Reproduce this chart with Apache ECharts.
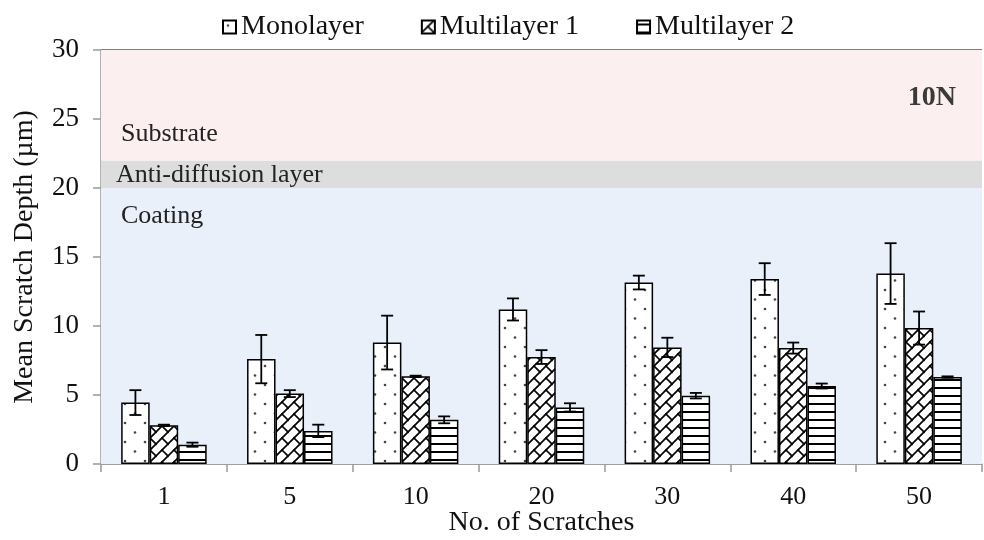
<!DOCTYPE html>
<html>
<head>
<meta charset="utf-8">
<script src="https://cdn.jsdelivr.net/npm/echarts@6/dist/echarts.min.js"></script>
<style>
  html, body { margin: 0; padding: 0; background: #ffffff; }
  #chart { width: 984px; height: 540px; }
</style>
</head>
<body>
<div id="chart"></div>
<script>
// Number of scratches (category axis)
const categories = ['1', '5', '10', '20', '30', '40', '50'];

// Mean scratch depth (µm) and standard deviation for each coating
const monolayer      = [4.45, 7.6, 8.8, 11.2, 13.15, 13.4, 13.8];
const monolayerErr   = [0.9, 1.75, 1.95, 0.8, 0.5, 1.15, 2.2];
const multilayer1    = [2.8, 5.1, 6.35, 7.75, 8.45, 8.4, 9.85];
const multilayer1Err = [0.05, 0.25, 0.05, 0.5, 0.7, 0.4, 1.2];
const multilayer2    = [1.4, 2.4, 3.2, 4.1, 4.95, 5.65, 6.3];
const multilayer2Err = [0.15, 0.45, 0.25, 0.3, 0.2, 0.18, 0.05];

const seriesNames = ['Monolayer', 'Multilayer 1', 'Multilayer 2'];

// Layer zones along the depth axis
const zoneNames  = ['Coating', 'Anti-diffusion layer', 'Substrate'];
const zoneBounds = [[0, 20], [20, 22], [22, 30]];

const yMin = 0, yMax = 30, yStep = 5;
const loadLabel = '10N';

const FONT = "'Liberation Serif', 'Times New Roman', serif";
const BAR_W = 28.5;
const CAP = 6;

// ---- fill patterns ----
function makeCanvas(w, h) {
  const c = document.createElement('canvas');
  c.width = w; c.height = h;
  const ctx = c.getContext('2d');
  ctx.fillStyle = '#ffffff';
  ctx.fillRect(0, 0, w, h);
  return [c, ctx];
}

function dotPattern() {
  const [c, ctx] = makeCanvas(20, 19);
  ctx.fillStyle = '#444';
  [[5, 5], [15, 14.5]].forEach(([x, y]) => {
    ctx.beginPath(); ctx.arc(x, y, 1.3, 0, Math.PI * 2); ctx.fill();
  });
  return c;
}

function brickPattern() {
  const T = 12;
  const [c, ctx] = makeCanvas(T, T);
  ctx.strokeStyle = '#000';
  ctx.lineWidth = 1.7;
  ctx.lineCap = 'square';
  const seg = (x1, y1, x2, y2) => { ctx.beginPath(); ctx.moveTo(x1, y1); ctx.lineTo(x2, y2); ctx.stroke(); };
  // long "/" courses
  [0, T, 2 * T].forEach(k => seg(-T, k + T, k + T, -T));
  // short "\" joints, staggered between courses
  [[0, 0], [-T, -T], [T, T], [-T, 0], [0, -T]].forEach(([dx, dy]) =>
    seg(T / 2 + dx, T / 2 + dy, T + dx, T + dy));
  return c;
}

function stripePattern() {
  const [c, ctx] = makeCanvas(8, 8);
  ctx.fillStyle = '#000';
  ctx.fillRect(0, 3, 8, 2);
  return c;
}

const fills = [dotPattern(), brickPattern(), stripePattern()];
const values = [monolayer, multilayer1, multilayer2];
const errors = [monolayerErr, multilayer1Err, multilayer2Err];

function barSeries(idx) {
  return {
    name: seriesNames[idx],
    type: 'bar',
    barWidth: BAR_W,
    barGap: '0%',
    data: values[idx],
    itemStyle: {
      color: { image: fills[idx], repeat: 'repeat' },
      borderColor: '#000',
      borderWidth: 1.5
    },
    emphasis: { disabled: true },
    z: 3
  };
}

function errorSeries(idx) {
  return {
    name: seriesNames[idx] + ' SD',
    type: 'custom',
    silent: true,
    z: 5,
    encode: { x: 0, y: 1 },
    data: values[idx].map((v, i) => [i, v, errors[idx][i]]),
    renderItem(params, api) {
      const i = api.value(0), v = api.value(1), e = api.value(2);
      const top = api.coord([i, v + e]);
      const bot = api.coord([i, v - e]);
      const x = top[0] + (idx - 1) * BAR_W;
      const st = { stroke: '#000', lineWidth: 1.8 };
      return {
        type: 'group',
        children: [
          { type: 'line', shape: { x1: x, y1: top[1], x2: x, y2: bot[1] }, style: st },
          { type: 'line', shape: { x1: x - CAP, y1: top[1], x2: x + CAP, y2: top[1] }, style: st },
          { type: 'line', shape: { x1: x - CAP, y1: bot[1], x2: x + CAP, y2: bot[1] }, style: st }
        ]
      };
    }
  };
}

// Layer zones drawn beneath the grid lines
const zoneColors = ['#e9f0fa', '#dddddd', '#fcefef'];
const zoneLabelPos = [
  { position: 'insideTopLeft', offset: [15, 10] },
  { position: 'insideLeft', offset: [10, 1] },
  { position: 'insideBottomLeft', offset: [15, -8] }
];
const zoneSeries = {
  name: 'zones',
  type: 'line',
  data: [],
  z: -1,
  silent: true,
  markArea: {
    silent: true,
    data: zoneNames.map((n, k) => [
      {
        name: n,
        yAxis: zoneBounds[k][0],
        itemStyle: { color: zoneColors[k] },
        label: Object.assign({
          show: true, color: '#222', fontFamily: FONT, fontSize: 26
        }, zoneLabelPos[k])
      },
      { yAxis: zoneBounds[k][1] }
    ])
  }
};

const chart = echarts.init(document.getElementById('chart'), null, { renderer: 'canvas' });

chart.setOption({
  animation: false,
  backgroundColor: '#ffffff',
  title: {
    text: loadLabel,
    right: 23,
    top: 79,
    textStyle: { fontFamily: FONT, fontWeight: 'bold', fontSize: 28, color: '#3a3a3a' }
  },
  legend: {
    data: seriesNames,
    icon: 'rect',
    left: 217,
    top: 8,
    itemWidth: 13,
    itemHeight: 13,
    itemGap: 57,
    textStyle: { fontFamily: FONT, fontSize: 28, color: '#111' }
  },
  grid: { left: 101, right: 2, top: 50, bottom: 76, outerBoundsMode: 'none', containLabel: false },
  xAxis: {
    type: 'category',
    data: categories,
    name: 'No. of Scratches',
    nameLocation: 'middle',
    nameMoveOverlap: false,
    nameGap: 45,
    nameTextStyle: { fontFamily: FONT, fontSize: 28, color: '#111' },
    axisLine: { lineStyle: { color: '#999', width: 1.5 } },
    axisTick: { show: true, length: 8, lineStyle: { color: '#999', width: 1.5 } },
    axisLabel: { fontFamily: FONT, fontSize: 26, color: '#111', margin: 20 }
  },
  yAxis: {
    type: 'value',
    min: yMin,
    max: yMax,
    interval: yStep,
    name: 'Mean Scratch Depth (\u00b5m)',
    nameLocation: 'middle',
    nameGap: 62,
    nameTextStyle: { fontFamily: FONT, fontSize: 28, color: '#111' },
    axisLine: { show: true, lineStyle: { color: '#999', width: 1.5 } },
    axisTick: { show: true, length: 8, lineStyle: { color: '#999', width: 1.5 } },
    axisLabel: { fontFamily: FONT, fontSize: 27, color: '#111', margin: 22 },
    splitLine: {
      show: true,
      lineStyle: { color: ['#999', '#999', '#999', '#999', '#999', '#999', '#555'], width: 1.5 }
    }
  },
  series: [
    zoneSeries,
    barSeries(0), barSeries(1), barSeries(2),
    errorSeries(0), errorSeries(1), errorSeries(2)
  ]
});
</script>
</body>
</html>
